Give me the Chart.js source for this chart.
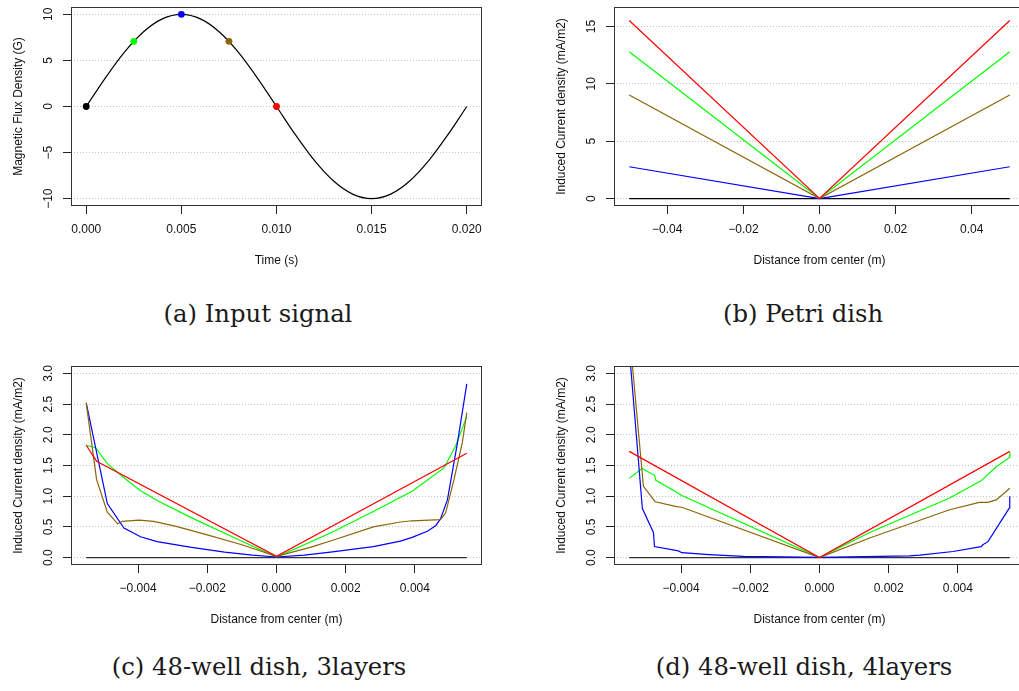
<!DOCTYPE html>
<html>
<head>
<meta charset="utf-8">
<script src="https://cdn.jsdelivr.net/npm/chart.js@4.4.1/dist/chart.umd.min.js"></script>
<style>
  html, body { margin: 0; padding: 0; background: #fff; overflow: hidden; }
  body { width: 1019px; height: 691px; position: relative; }
  .panel { position: absolute; width: 500px; height: 280px; }
  .cap { position: absolute; width: 500px; text-align: center; font-family: "DejaVu Serif", serif;
         font-size: 24.3px; line-height: 24px; color: #1a1a1a; white-space: nowrap; }
</style>
</head>
<body>
<div class="panel" style="left:0;top:0"><canvas id="sig" width="500" height="280"></canvas></div>
<div class="panel" style="left:543px;top:0"><canvas id="petri" width="500" height="280"></canvas></div>
<div class="panel" style="left:0;top:359px"><canvas id="well3" width="500" height="280"></canvas></div>
<div class="panel" style="left:543px;top:359px"><canvas id="well4" width="500" height="280"></canvas></div>
<div class="cap" style="left:8px;top:302px">(a) Input signal</div>
<div class="cap" style="left:553px;top:302px">(b) Petri dish</div>
<div class="cap" style="left:9px;top:655px">(c) 48-well dish, 3layers</div>
<div class="cap" style="left:554px;top:655px">(d) 48-well dish, 4layers</div>
<script>
// colours used for the five sample instants
const black = '#000000', green = '#00ff00', blue = '#0000ff', brown = '#8b6508', red = '#ff0000';

// (a) input signal, one period
const sigTime = [0, 0.001, 0.002, 0.003, 0.004, 0.005, 0.006, 0.007, 0.008, 0.009, 0.010,
                 0.011, 0.012, 0.013, 0.014, 0.015, 0.016, 0.017, 0.018, 0.019, 0.020];
const sigFlux = [0, 3.09, 5.88, 8.09, 9.51, 10, 9.51, 8.09, 5.88, 3.09, 0,
                 -3.09, -5.88, -8.09, -9.51, -10, -9.51, -8.09, -5.88, -3.09, 0];
const markTime = [0, 0.0025, 0.005, 0.0075, 0.010];
const markFlux = [0, 7.07, 10, 7.07, 0];
const markColors = [black, green, blue, brown, red];
const sigXTicks = [0, 0.005, 0.010, 0.015, 0.020];
const sigXLabels = ['0.000', '0.005', '0.010', '0.015', '0.020'];
const sigYTicks = [-10, -5, 0, 5, 10];
const sigYLabels = ['\u221210', '\u22125', '0', '5', '10'];

// (b) petri dish
const petriX = [-0.05, 0, 0.05];
const petriBlack = [0, 0, 0];
const petriGreen = [12.8, 0, 12.8];
const petriBlue = [2.77, 0, 2.77];
const petriBrown = [9.03, 0, 9.03];
const petriRed = [15.52, 0, 15.52];
const petriXTicks = [-0.04, -0.02, 0, 0.02, 0.04];
const petriXLabels = ['\u22120.04', '\u22120.02', '0.00', '0.02', '0.04'];
const petriYTicks = [0, 5, 10, 15];
const petriYLabels = ['0', '5', '10', '15'];

// (c) 48-well dish, 3 layers
const w3BlackX = [-0.0055, 0.0055];
const w3BlackY = [0, 0];
const w3GreenX = [-0.0055, -0.00523, -0.00489, -0.00441, -0.00393, -0.00345, -0.0025, -0.0012, 0,
                  0.00156, 0.0028, 0.00392, 0.00484, 0.00518, 0.0055];
const w3GreenY = [1.83, 1.79, 1.53, 1.30, 1.09, 0.93, 0.66, 0.32, 0.01,
                  0.40, 0.75, 1.08, 1.46, 1.82, 2.30];
const w3BlueX = [-0.0055, -0.00489, -0.00441, -0.00393, -0.00345, -0.0025, -0.0015, -0.0007, 0,
                 0.0008, 0.00156, 0.0028, 0.00358, 0.00392, 0.00436, 0.0046, 0.00474, 0.00494, 0.00523, 0.0055];
const w3BlueY = [2.52, 0.88, 0.48, 0.34, 0.26, 0.17, 0.09, 0.04, 0.01,
                 0.04, 0.09, 0.18, 0.27, 0.33, 0.43, 0.52, 0.63, 0.94, 1.87, 2.83];
const w3BrownX = [-0.0055, -0.0052, -0.00489, -0.00459, -0.00446, -0.00398, -0.00355, -0.0029, -0.002, -0.001, 0,
                  0.001, 0.00156, 0.0028, 0.00358, 0.00392, 0.00474, 0.00489, 0.00513, 0.00537, 0.0055];
const w3BrownY = [2.52, 1.27, 0.74, 0.55, 0.59, 0.61, 0.59, 0.51, 0.37, 0.21, 0.02,
                  0.17, 0.27, 0.50, 0.58, 0.60, 0.62, 0.73, 1.27, 1.87, 2.36];
const w3RedX = [-0.0055, -0.0052, 0, 0.0055];
const w3RedY = [1.83, 1.57, 0.02, 1.70];

// (d) 48-well dish, 4 layers
const w4BlackX = [-0.0055, 0.0055];
const w4BlackY = [0, 0];
const w4GreenX = [-0.0055, -0.00513, -0.00477, -0.00473, -0.00408, -0.00398, 0,
                  0.00145, 0.00376, 0.00467, 0.00511, 0.00549, 0.0055];
const w4GreenY = [1.29, 1.45, 1.34, 1.26, 1.05, 1.01, 0,
                  0.41, 0.97, 1.25, 1.48, 1.63, 1.71];
const w4BlueX = [-0.0055, -0.00512, -0.0048, -0.00477, -0.00408, -0.00398, -0.0032, -0.0022, 0,
                 0.0026, 0.0029, 0.00386, 0.00467, 0.00472, 0.00487, 0.00549, 0.0055];
const w4BlueY = [3.4, 0.80, 0.41, 0.18, 0.11, 0.08, 0.05, 0.02, 0.005,
                 0.03, 0.04, 0.10, 0.18, 0.21, 0.26, 0.81, 1.0];
const w4BrownX = [-0.0055, -0.00509, -0.00475, -0.00413, -0.00398, 0,
                  0.00145, 0.00376, 0.00462, 0.00487, 0.00511, 0.0055];
const w4BrownY = [3.7, 1.16, 0.91, 0.83, 0.82, 0,
                  0.32, 0.78, 0.90, 0.90, 0.94, 1.13];
const w4RedX = [-0.0055, 0, 0.0055];
const w4RedY = [1.73, 0, 1.73];

const wellXTicks = [-0.004, -0.002, 0, 0.002, 0.004];
const wellXLabels = ['\u22120.004', '\u22120.002', '0.000', '0.002', '0.004'];
const wellYTicks = [0, 0.5, 1, 1.5, 2, 2.5, 3];
const wellYLabels = ['0.0', '0.5', '1.0', '1.5', '2.0', '2.5', '3.0'];

const axisFont = { family: '"Liberation Sans", Arial, sans-serif', size: 12 };
const ink = '#111';

const xy = (xs, ys) => xs.map((x, i) => ({ x, y: ys[i] }));
// later series are painted over earlier ones (lower order = on top)
const line = (xs, ys, color, order) => ({
  data: xy(xs, ys), borderColor: color, borderWidth: 1.2, pointRadius: 0, fill: false, clip: 0, order
});

// box around the plotting region
const framePlugin = {
  id: 'frame',
  afterDraw(chart) {
    const { ctx, chartArea: a } = chart;
    ctx.save();
    ctx.strokeStyle = '#333';
    ctx.lineWidth = 1;
    ctx.strokeRect(Math.round(a.left) + 0.5, Math.round(a.top) + 0.5,
                   Math.round(a.right - a.left) - 1, Math.round(a.bottom - a.top) - 1);
    ctx.restore();
  }
};

// y tick labels written along the axis
const yLabelPlugin = {
  id: 'yLabels',
  afterDraw(chart, args, opts) {
    const { ctx, chartArea, scales } = chart;
    const y = scales.y;
    ctx.save();
    ctx.font = '12px "Liberation Sans", Arial, sans-serif';
    ctx.fillStyle = ink;
    ctx.textAlign = 'center';
    ctx.textBaseline = 'middle';
    y.ticks.forEach((t, i) => {
      ctx.save();
      ctx.translate(chartArea.left - 22.4, y.getPixelForValue(t.value));
      ctx.rotate(-Math.PI / 2);
      ctx.fillText(opts.labels[i], 0, 0);
      ctx.restore();
    });
    ctx.restore();
  }
};
Chart.register(framePlugin, yLabelPlugin);

function panelOptions(p) {
  return {
    responsive: false,
    animation: false,
    events: [],
    layout: { padding: { top: 7, right: 18, left: 0, bottom: 0 } },
    plugins: {
      legend: { display: false },
      tooltip: { enabled: false },
      yLabels: { labels: p.yLabels }
    },
    scales: {
      x: {
        type: 'linear', min: p.xMin, max: p.xMax,
        afterBuildTicks: s => { s.ticks = p.xTicks.map(v => ({ value: v })); },
        afterFit: s => { s.height = 74; },
        grid: { drawOnChartArea: false, drawTicks: true, tickLength: 8, tickColor: '#222', tickWidth: 1 },
        border: { display: false },
        ticks: { padding: 8, color: ink, font: axisFont, maxRotation: 0, autoSkip: false,
                 callback: (v, i) => p.xLabels[i] },
        title: { display: true, text: p.xTitle, color: ink, font: axisFont, padding: { top: 0, bottom: 12 } }
      },
      y: {
        type: 'linear', min: p.yMin, max: p.yMax,
        afterBuildTicks: s => { s.ticks = p.yTicks.map(v => ({ value: v })); },
        afterFit: s => { s.width = 71; },
        grid: { color: '#c4c4c4', tickLength: 8, tickColor: '#222', tickWidth: 1, tickBorderDash: [] },
        border: { display: false, dash: [1, 2] },
        ticks: { display: false },
        title: { display: true, text: p.yTitle, color: ink, font: axisFont, padding: { top: 11, bottom: 0 } }
      }
    }
  };
}

new Chart(document.getElementById('sig'), {
  type: 'line',
  data: {
    datasets: [
      Object.assign(line(sigTime, sigFlux, black, 2), { cubicInterpolationMode: 'monotone' }),
      { data: xy(markTime, markFlux), showLine: false, pointRadius: 3.4, pointBorderWidth: 0,
        pointBackgroundColor: markColors, pointBorderColor: markColors, clip: 0, order: 1 }
    ]
  },
  options: panelOptions({
    xMin: -0.0008, xMax: 0.0208, yMin: -10.8, yMax: 10.8,
    xTicks: sigXTicks, xLabels: sigXLabels, yTicks: sigYTicks, yLabels: sigYLabels,
    xTitle: 'Time (s)', yTitle: 'Magnetic Flux Density (G)'
  })
});

new Chart(document.getElementById('petri'), {
  type: 'line',
  data: {
    datasets: [
      line(petriX, petriBlack, black, 5),
      line(petriX, petriGreen, green, 4),
      line(petriX, petriBlue, blue, 3),
      line(petriX, petriBrown, brown, 2),
      line(petriX, petriRed, red, 1)
    ]
  },
  options: panelOptions({
    xMin: -0.054, xMax: 0.054, yMin: -0.65, yMax: 16.7,
    xTicks: petriXTicks, xLabels: petriXLabels, yTicks: petriYTicks, yLabels: petriYLabels,
    xTitle: 'Distance from center (m)', yTitle: 'Induced Current density (mA/m2)'
  })
});

new Chart(document.getElementById('well3'), {
  type: 'line',
  data: {
    datasets: [
      line(w3BlackX, w3BlackY, '#333', 5),
      line(w3GreenX, w3GreenY, green, 4),
      line(w3BlueX, w3BlueY, blue, 3),
      line(w3BrownX, w3BrownY, brown, 2),
      line(w3RedX, w3RedY, red, 1)
    ]
  },
  options: panelOptions({
    xMin: -0.00594, xMax: 0.00594, yMin: -0.12, yMax: 3.12,
    xTicks: wellXTicks, xLabels: wellXLabels, yTicks: wellYTicks, yLabels: wellYLabels,
    xTitle: 'Distance from center (m)', yTitle: 'Induced Current density (mA/m2)'
  })
});

new Chart(document.getElementById('well4'), {
  type: 'line',
  data: {
    datasets: [
      line(w4BlackX, w4BlackY, '#333', 5),
      line(w4GreenX, w4GreenY, green, 4),
      line(w4BlueX, w4BlueY, blue, 3),
      line(w4BrownX, w4BrownY, brown, 2),
      line(w4RedX, w4RedY, red, 1)
    ]
  },
  options: panelOptions({
    xMin: -0.00594, xMax: 0.00594, yMin: -0.12, yMax: 3.12,
    xTicks: wellXTicks, xLabels: wellXLabels, yTicks: wellYTicks, yLabels: wellYLabels,
    xTitle: 'Distance from center (m)', yTitle: 'Induced Current density (mA/m2)'
  })
});
</script>
</body>
</html>
